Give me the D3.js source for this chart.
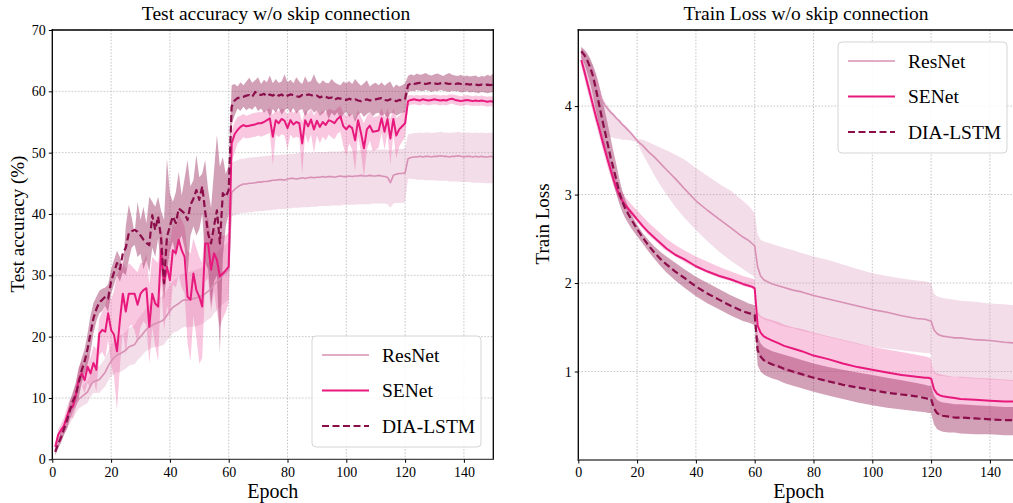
<!DOCTYPE html>
<html>
<head>
<meta charset="utf-8">
<script src="https://cdn.jsdelivr.net/npm/d3@7"></script>
<style>
body { margin: 0; background: #fff; }
svg text { font-family: "Liberation Serif", "Times New Roman", serif; fill: #000; }
</style>
</head>
<body>
<script>
// two panels: test accuracy and train loss, w/o skip connection

const w = 1013;
const h = 503;

const names = ["ResNet", "SENet", "DIA-LSTM"];

// ---- test accuracy, one value per epoch (1..150)
const accEpochs = d3.range(1, 151);

const resAcc = [1.5,2.8,3.8,5.0,6.0,7.0,8.0,9.0,9.8,10.2, 10.6,11.0,12.0,12.7,12.8,13.0,13.6,14.2,15.2,16.0,
  16.6,17.0,17.2,17.5,17.8,18.3,18.5,18.7,19.5,20.0, 20.6,21.2,21.6,21.9,22.1,22.3,22.5,22.8,23.5,24.2,
  24.8,25.1,25.4,25.8,26.0,26.0,26.1,26.2,26.3,26.5, 26.7,27.0,27.4,27.8,28.5,29.0,29.5,30.0,30.4,30.8,
  43.5,44.0,44.4,44.7,44.9,44.9,45.0,45.0,45.1,45.2, 45.2,45.3,45.3,45.4,45.5,45.5,45.6,45.6,45.5,45.7,
  45.8,45.8,45.7,45.8,45.9,45.8,45.9,46.0,45.9,46.0, 46.0,46.1,46.0,46.1,46.1,46.0,46.1,46.2,46.1,46.1,
  46.2,46.1,46.2,46.2,46.3,46.2,46.2,46.3,46.2,46.2, 46.3,46.2,46.1,46.0,45.1,46.3,46.5,46.6,46.6,46.7,
  49.0,49.2,49.3,49.3,49.4,49.3,49.4,49.4,49.3,49.4, 49.4,49.5,49.4,49.4,49.3,49.4,49.4,49.5,49.4,49.3,
  49.4,49.4,49.3,49.4,49.3,49.4,49.3,49.3,49.4,49.3];
const resAccHi = [2.0,3.5,4.6,6.0,7.0,8.2,9.3,10.5,11.3,11.8, 12.3,12.8,13.8,14.6,14.8,15.2,15.8,16.5,17.6,18.5,
  19.3,19.8,20.2,20.5,20.8,21.4,21.6,21.9,22.8,23.4, 24.0,24.7,25.2,25.6,25.9,26.2,26.5,26.9,27.6,28.4,
  29.0,29.4,29.8,30.2,30.4,30.5,30.6,30.8,30.9,31.1, 31.3,31.6,32.0,32.5,33.2,33.7,34.2,34.7,35.1,35.5,
  48.4,48.6,48.8,49.0,49.0,49.1,49.2,49.2,49.3,49.3, 49.4,49.4,49.5,49.5,49.6,49.6,49.6,49.7,49.7,49.8,
  49.8,49.8,49.9,49.9,49.9,50.0,50.0,50.0,50.0,50.1, 50.1,50.1,50.1,50.2,50.2,50.2,50.2,50.2,50.3,50.3,
  50.3,50.3,50.3,50.4,50.4,50.4,50.4,50.4,50.4,50.5, 50.5,50.5,50.5,50.5,50.3,50.5,50.6,50.6,50.6,50.7,
  53.0,53.1,53.2,53.2,53.3,53.2,53.3,53.3,53.2,53.3, 53.3,53.4,53.3,53.3,53.2,53.3,53.3,53.4,53.3,53.2,
  53.3,53.3,53.2,53.3,53.2,53.3,53.2,53.2,53.3,53.2];
const resAccLo = [1.0,2.1,3.0,4.0,5.0,5.8,6.7,7.5,8.3,8.6, 8.9,9.2,10.2,10.8,10.8,10.8,11.4,11.9,12.8,13.5,
  13.9,14.2,14.2,14.5,14.8,15.2,15.4,15.5,16.2,16.6, 17.2,17.7,18.0,18.2,18.3,18.4,18.5,18.7,19.4,20.0,
  20.6,20.8,21.0,21.4,21.6,21.5,21.6,21.6,21.7,21.9, 22.1,22.4,22.8,23.1,23.8,24.3,24.8,25.3,25.7,26.1,
  39.6,39.8,40.0,40.1,40.2,40.2,40.3,40.3,40.4,40.4, 40.5,40.5,40.6,40.6,40.7,40.7,40.8,40.8,40.8,40.9,
  40.9,41.0,41.0,41.0,41.1,41.1,41.1,41.2,41.2,41.2, 41.3,41.3,41.3,41.3,41.4,41.4,41.4,41.4,41.5,41.5,
  41.5,41.5,41.5,41.6,41.6,41.6,41.6,41.6,41.7,41.7, 41.7,41.7,41.7,41.6,41.0,41.7,41.8,41.8,41.8,41.9,
  45.8,45.7,45.7,45.6,45.6,45.6,45.5,45.5,45.5,45.5, 45.4,45.4,45.4,45.4,45.3,45.3,45.3,45.3,45.2,45.2,
  45.2,45.2,45.1,45.1,45.1,45.1,45.0,45.0,45.0,45.0];

const seAcc = [2.0,4.0,4.8,5.5,7.0,8.3,8.6,10.5,13.0,14.0, 12.9,15.1,14.0,15.7,14.6,20.5,21.1,20.8,23.8,21.1,
  20.3,17.6,22.7,27.0,24.1,27.0,27.0,27.0,25.2,27.0, 27.6,27.9,21.6,27.0,25.4,24.9,34.1,28.7,31.4,29.2,
  34.1,33.6,35.8,34.1,33.0,26.5,26.0,30.3,27.6,26.5, 24.9,35.2,35.2,30.9,33.6,32.5,29.8,30.3,30.8,31.4,
  51.5,53.0,53.7,54.2,54.5,54.3,54.4,54.5,54.6,54.8, 54.8,55.0,55.3,55.6,52.6,55.3,54.8,55.5,55.2,54.0,
  55.3,54.6,55.0,54.8,51.5,55.3,54.3,55.4,53.8,55.2, 54.2,55.0,54.5,55.3,55.1,54.8,55.5,55.9,54.3,53.8,
  54.4,54.0,52.0,55.3,53.2,50.7,53.8,54.4,53.4,53.5, 53.6,55.6,53.4,55.5,52.3,55.5,52.8,53.8,54.3,54.8,
  58.4,58.6,58.7,58.6,58.5,58.7,58.6,58.5,58.6,58.7, 58.6,58.5,58.6,58.5,58.7,58.8,58.6,58.5,58.4,58.5,
  58.6,58.5,58.4,58.5,58.4,58.5,58.4,58.3,58.4,58.3];
const seAccHi = [2.6,4.8,5.8,6.8,8.5,9.8,10.5,12.5,15.0,16.0, 15.0,17.5,16.5,18.5,18.0,23.0,24.0,25.0,27.5,26.0,
  27.5,30.0,31.0,32.5,31.0,32.0,31.5,31.0,30.5,32.0, 32.0,33.5,28.5,33.0,32.5,32.0,38.0,34.5,36.5,35.0,
  38.5,38.0,40.0,39.0,38.0,34.0,33.5,36.0,34.5,33.0, 32.0,39.0,39.5,36.0,38.0,37.0,36.0,36.5,36.5,37.0,
  53.5,55.0,55.8,56.0,56.3,56.0,56.2,56.4,56.5,56.6, 56.6,56.8,57.0,57.3,56.2,57.0,56.7,57.2,57.0,56.2,
  57.1,56.5,56.8,56.7,55.0,57.0,56.3,57.2,56.0,57.0, 56.2,56.9,56.5,57.1,57.0,56.8,57.3,57.6,56.5,56.0,
  56.4,56.2,55.5,57.0,55.8,54.8,56.0,56.5,55.8,55.9, 56.0,57.3,55.8,57.2,55.5,57.2,55.6,56.0,56.5,57.0,
  59.3,59.4,59.3,59.4,59.3,59.4,59.4,59.3,59.4,59.5, 59.4,59.3,59.4,59.3,59.5,59.5,59.4,59.3,59.2,59.3,
  59.4,59.3,59.2,59.3,59.2,59.3,59.2,59.1,59.2,59.1];
const seAccLo = [1.4,3.2,3.8,4.3,5.5,6.8,6.7,8.5,11.0,12.0, 10.8,12.5,11.5,13.0,11.0,17.0,17.5,16.5,19.5,15.5,
  13.5,8.0,15.0,21.0,17.0,21.5,22.0,21.0,19.0,21.5, 22.5,22.0,15.6,21.5,18.5,16.0,28.5,21.0,25.0,23.0,
  28.5,28.0,30.0,28.0,27.0,19.0,16.0,23.5,20.0,15.6, 16.5,29.0,29.5,24.0,27.5,24.0,21.5,23.0,24.0,25.5,
  48.5,50.0,51.5,52.0,52.5,52.3,52.4,52.5,52.6,52.8, 52.6,52.8,53.0,53.2,48.0,53.0,52.5,53.0,52.8,50.5,
  53.0,52.3,52.6,52.4,46.6,52.9,51.5,53.0,50.0,52.8, 51.5,52.6,52.0,52.9,52.5,52.2,53.1,53.4,51.0,49.5,
  51.5,50.5,47.0,52.7,50.0,46.0,50.5,52.0,50.2,50.5, 50.8,53.2,50.5,53.1,48.0,53.0,49.0,51.0,51.8,52.5,
  57.6,57.8,57.9,57.8,57.7,57.9,57.8,57.7,57.8,57.9, 57.8,57.7,57.8,57.7,57.9,58.0,57.8,57.7,57.6,57.7,
  57.8,57.7,57.6,57.7,57.6,57.7,57.6,57.5,57.6,57.5];

const diaAcc = [1.2,2.5,3.6,5.0,6.3,8.0,9.5,10.5,12.5,14.5, 16.0,18.0,20.5,23.0,24.5,25.6,26.0,26.5,26.2,29.0,
  30.5,32.0,31.0,33.6,34.5,36.8,37.2,37.4,37.1,36.5, 35.8,35.3,34.9,39.8,37.4,39.6,36.0,28.7,36.3,38.0,
  39.6,38.5,40.9,40.5,40.1,39.0,41.5,42.5,43.9,42.3, 44.5,40.4,36.8,35.2,38.0,40.6,35.2,43.4,42.8,43.9,
  57.5,58.5,58.9,59.0,59.1,59.3,59.4,59.1,59.9,59.5, 59.4,59.6,59.2,59.5,59.3,59.6,59.3,59.5,59.1,59.3,
  59.5,59.4,59.2,59.1,59.4,59.3,59.5,59.4,59.2,59.3, 59.0,59.2,59.1,58.9,59.0,58.6,58.9,58.8,58.7,58.6,
  58.8,58.6,58.7,58.5,58.4,58.6,58.7,58.5,58.6,58.7, 58.8,58.9,58.6,58.5,58.7,58.6,58.4,58.6,58.5,58.8,
  61.0,61.3,61.2,61.3,61.4,61.3,61.2,61.3,61.4,61.3, 61.2,61.3,61.4,61.3,61.2,61.3,61.2,61.3,61.2,61.1,
  61.2,61.1,61.2,61.1,61.0,61.1,61.0,61.1,61.0,61.1];
const diaAccHi = [1.8,3.2,4.5,6.0,7.5,9.5,11.0,12.5,14.8,16.5, 18.0,20.5,23.5,25.5,26.5,27.5,27.8,28.0,28.5,31.0,
  32.5,34.0,33.0,31.1,38.0,41.5,39.5,36.8,42.0,39.0, 41.2,38.5,42.8,42.0,41.2,42.8,40.5,39.0,49.0,43.4,
  42.0,43.5,46.9,43.0,45.8,48.8,44.5,45.5,49.6,46.0, 46.6,48.8,44.0,41.0,47.0,52.9,47.7,49.3,46.5,48.0,
  61.0,61.2,60.8,61.5,61.0,61.6,62.2,61.4,61.8,62.3, 61.2,61.9,61.5,62.6,61.3,62.0,61.4,61.6,62.8,61.5,
  61.9,61.3,62.3,61.6,61.2,62.4,61.5,61.7,62.8,61.6, 61.2,61.8,61.4,61.3,62.0,61.5,61.2,61.0,61.6,61.3,
  61.7,61.2,62.0,61.4,60.9,61.3,61.8,60.8,61.2,61.4, 61.0,61.5,60.9,61.3,61.6,60.6,61.1,60.8,61.0,61.3,
  62.5,62.8,62.6,62.9,62.7,62.8,63.0,62.7,62.6,62.8, 62.9,62.7,62.5,62.8,63.0,62.7,62.6,62.5,62.7,62.4,
  62.6,62.4,62.5,62.6,62.3,62.5,62.4,62.7,62.5,62.9];
const diaAccLo = [0.6,1.8,2.7,4.0,5.0,6.5,8.0,8.6,10.0,12.5, 14.0,15.5,17.5,20.5,22.5,23.8,24.2,25.0,24.0,27.0,
  28.5,30.0,29.0,30.5,30.0,32.5,34.5,35.0,33.0,33.5, 31.0,32.5,30.5,34.5,33.0,36.0,31.0,26.0,30.5,34.0,
  35.5,33.0,35.5,36.5,34.5,30.0,36.5,38.0,36.5,37.5, 40.0,32.0,31.0,25.0,29.0,30.0,17.3,33.0,38.0,40.0,
  54.5,56.0,57.2,56.8,57.5,56.9,57.3,57.0,57.6,56.8, 57.2,56.5,57.0,55.8,57.1,56.6,57.3,56.2,56.9,57.2,
  56.6,57.3,56.4,56.9,57.1,55.9,56.8,57.2,56.5,56.9, 56.0,56.4,56.9,55.5,56.5,56.0,56.6,55.3,56.3,56.6,
  55.8,56.3,55.0,56.2,56.5,55.8,56.3,56.6,55.9,56.4, 56.5,56.0,56.3,55.6,56.4,56.5,56.0,56.3,56.5,56.6,
  59.8,60.1,60.0,60.2,60.1,60.0,60.2,60.1,59.9,60.1, 60.0,60.2,60.1,60.0,59.9,60.1,60.0,60.0,59.8,59.9,
  60.0,59.8,59.9,59.8,59.7,59.9,59.8,59.7,59.8,59.9];

// ---- train loss, sampled epochs
const lossEpochs = [1,2,3,4,5,6,7,8,9,10,11,12,13,14,15,16,18,20,22,24,26,28,30,33,36,40,44,48,52,56,58,59,60,
  61,62,63,64,66,68,70,73,76,80,85,90,95,100,105,110,115,118,119,120,
  121,122,123,124,126,128,130,135,140,145,150];

const resLoss = [4.60,4.55,4.48,4.42,4.35,4.28,4.18,4.07,4.01,3.97,3.93,3.90,3.86,3.83,3.79,3.76,3.69,3.61,3.55,3.48,3.42,3.35,3.28,3.18,3.07,2.93,2.82,2.72,2.62,2.52,2.48,2.45,2.42,
  2.18,2.08,2.04,2.02,1.99,1.97,1.95,1.92,1.90,1.86,1.82,1.78,1.74,1.70,1.67,1.63,1.60,1.59,1.58,1.57,
  1.47,1.43,1.41,1.40,1.39,1.38,1.38,1.36,1.35,1.33,1.32];
const resLossHi = [4.66,4.62,4.58,4.52,4.46,4.38,4.26,4.12,4.05,4.00,3.96,3.92,3.88,3.85,3.81,3.78,3.71,3.63,3.62,3.59,3.56,3.53,3.50,3.45,3.40,3.30,3.21,3.12,3.04,2.93,2.87,2.83,2.79,
  2.55,2.49,2.47,2.46,2.44,2.42,2.40,2.37,2.34,2.30,2.26,2.21,2.16,2.11,2.08,2.05,2.03,2.02,2.01,2.00,
  1.88,1.85,1.84,1.83,1.82,1.81,1.80,1.79,1.77,1.76,1.74];
const resLossLo = [4.50,4.42,4.30,4.20,4.08,3.96,3.84,3.74,3.68,3.66,3.65,3.64,3.63,3.63,3.62,3.62,3.61,3.59,3.45,3.33,3.21,3.10,3.00,2.86,2.74,2.60,2.47,2.35,2.25,2.16,2.11,2.09,2.07,
  1.64,1.61,1.59,1.58,1.56,1.53,1.51,1.49,1.46,1.43,1.39,1.35,1.31,1.28,1.26,1.24,1.22,1.21,1.21,1.20,
  0.98,0.96,0.95,0.95,0.94,0.94,0.93,0.92,0.91,0.90,0.89];

const seLoss = [4.52,4.40,4.27,4.14,4.01,3.88,3.76,3.63,3.51,3.39,3.28,3.17,3.07,2.99,2.93,2.88,2.80,2.72,2.64,2.57,2.51,2.45,2.39,2.32,2.27,2.19,2.13,2.08,2.04,1.99,1.97,1.96,1.94,
  1.52,1.44,1.40,1.38,1.35,1.32,1.29,1.26,1.23,1.18,1.14,1.09,1.05,1.02,0.99,0.96,0.94,0.93,0.93,0.92,
  0.80,0.75,0.73,0.72,0.71,0.70,0.69,0.68,0.67,0.66,0.66];
const seLossHi = [4.58,4.47,4.35,4.22,4.10,3.97,3.85,3.72,3.60,3.48,3.37,3.26,3.16,3.08,3.02,2.97,2.89,2.82,2.75,2.68,2.62,2.56,2.50,2.43,2.37,2.30,2.24,2.18,2.13,2.08,2.06,2.05,2.04,
  1.68,1.63,1.61,1.60,1.58,1.56,1.53,1.50,1.48,1.44,1.40,1.36,1.32,1.28,1.25,1.22,1.19,1.17,1.16,1.15,
  1.00,0.98,0.97,0.96,0.95,0.94,0.94,0.93,0.92,0.91,0.90];
const seLossLo = [4.46,4.33,4.19,4.06,3.93,3.80,3.68,3.55,3.43,3.31,3.20,3.10,3.01,2.93,2.88,2.84,2.77,2.69,2.61,2.54,2.48,2.42,2.36,2.30,2.24,2.17,2.11,2.06,2.02,1.97,1.95,1.94,1.92,
  1.24,1.16,1.12,1.10,1.07,1.04,1.01,0.98,0.95,0.92,0.88,0.85,0.82,0.79,0.77,0.75,0.73,0.72,0.71,0.70,
  0.57,0.52,0.50,0.49,0.48,0.47,0.47,0.46,0.45,0.45,0.44];

const diaLoss = [4.62,4.58,4.52,4.44,4.34,4.19,4.03,3.87,3.72,3.57,3.42,3.29,3.16,3.02,2.92,2.84,2.72,2.61,2.51,2.42,2.34,2.27,2.21,2.13,2.06,1.96,1.88,1.81,1.74,1.68,1.66,1.65,1.64,
  1.24,1.17,1.13,1.11,1.08,1.06,1.03,1.00,0.97,0.93,0.89,0.85,0.82,0.79,0.76,0.74,0.72,0.70,0.69,0.69,
  0.58,0.53,0.51,0.50,0.49,0.48,0.48,0.47,0.46,0.45,0.45];
const diaLossHi = [4.67,4.64,4.60,4.54,4.46,4.36,4.24,4.10,3.95,3.80,3.64,3.48,3.33,3.17,3.04,2.94,2.78,2.66,2.56,2.48,2.41,2.35,2.30,2.23,2.16,2.07,2.00,1.93,1.86,1.80,1.77,1.76,1.75,
  1.40,1.32,1.28,1.26,1.23,1.21,1.19,1.16,1.13,1.09,1.05,1.02,0.99,0.96,0.93,0.90,0.87,0.85,0.84,0.84,
  0.73,0.68,0.66,0.65,0.64,0.63,0.63,0.62,0.61,0.60,0.60];
const diaLossLo = [4.55,4.48,4.38,4.26,4.12,3.95,3.80,3.64,3.50,3.36,3.23,3.11,3.00,2.89,2.80,2.73,2.62,2.53,2.44,2.35,2.27,2.19,2.12,2.03,1.95,1.85,1.77,1.70,1.63,1.57,1.55,1.54,1.52,
  1.07,1.00,0.97,0.95,0.92,0.90,0.87,0.84,0.81,0.77,0.73,0.69,0.65,0.62,0.59,0.57,0.55,0.54,0.53,0.53,
  0.40,0.35,0.33,0.32,0.31,0.31,0.30,0.29,0.29,0.28,0.28];

const accTicksY = [0, 10, 20, 30, 40, 50, 60, 70];
const lossTicksY = [1, 2, 3, 4];
const epochTicks = [0, 20, 40, 60, 80, 100, 120, 140];

// styles
const serif = "'Liberation Serif', 'Times New Roman', serif";
const lineColor = ["#d890b5", "#e8197d", "#8b0d4a"];
const bandColor = ["#d890b5", "#ef5fa2", "#9c2f62"];
const bandAlpha = [0.3, 0.35, 0.45];
const lineWidth = [1.6, 2, 2.2];
const lineDash = [null, null, "7,3.5"];

let svg = d3.select("body")
    .append("svg")
    .attr("width", w)
    .attr("height", h)

function zip(ep, m, lo, hi) {
    return ep.map(function (e, i) { return { e: e, m: m[i], lo: lo[i], hi: hi[i] }; });
}

function panel(cfg) {
    var x = d3.scaleLinear().domain([0, 150]).range([cfg.left, cfg.right]);
    var y = d3.scaleLinear().domain(cfg.yDomain).range([cfg.bottom, cfg.top]);
    var g = svg.append("g");

    // grid
    g.selectAll(".gx").data(epochTicks).join("line")
        .attr("x1", d => x(d)).attr("x2", d => x(d))
        .attr("y1", cfg.top).attr("y2", cfg.bottom)
        .attr("stroke", "#b8b8b8").attr("stroke-width", 0.8).attr("stroke-dasharray", "1.6,1.6");
    g.selectAll(".gy").data(cfg.yTicks).join("line")
        .attr("x1", cfg.left).attr("x2", cfg.right)
        .attr("y1", d => y(d)).attr("y2", d => y(d))
        .attr("stroke", "#b8b8b8").attr("stroke-width", 0.8).attr("stroke-dasharray", "1.6,1.6");

    var area = d3.area().x(d => x(d.e)).y0(d => y(d.lo)).y1(d => y(d.hi));
    var line = d3.line().x(d => x(d.e)).y(d => y(d.m));

    cfg.series.forEach(function (s, i) {
        g.append("path").attr("d", area(s))
            .attr("fill", bandColor[i]).attr("fill-opacity", bandAlpha[i]);
    });
    cfg.series.forEach(function (s, i) {
        g.append("path").attr("d", line(s))
            .attr("fill", "none")
            .attr("stroke", lineColor[i])
            .attr("stroke-width", lineWidth[i])
            .attr("stroke-dasharray", lineDash[i])
            .attr("stroke-linejoin", "round");
    });

    // spines (bottom one is a bit greyer in the original)
    var spines = [
        [cfg.left, cfg.top, cfg.left, cfg.bottom, "#000"],
        [cfg.left, cfg.top, cfg.right, cfg.top, "#000"],
        [cfg.right, cfg.top, cfg.right, cfg.bottom, "#000"],
        [cfg.left, cfg.bottom, cfg.right, cfg.bottom, "#4a4a4a"]
    ];
    g.selectAll(".spine").data(spines).join("line")
        .attr("x1", d => d[0]).attr("y1", d => d[1])
        .attr("x2", d => d[2]).attr("y2", d => d[3])
        .attr("stroke", d => d[4]).attr("stroke-width", 1.3)
        .attr("stroke-linecap", "square");

    var ax = g.append("g").attr("transform", "translate(0," + cfg.bottom + ")")
        .call(d3.axisBottom(x).tickValues(epochTicks).tickFormat(d3.format("d")).tickSize(3.5).tickPadding(4));
    var ay = g.append("g").attr("transform", "translate(" + cfg.left + ",0)")
        .call(d3.axisLeft(y).tickValues(cfg.yTicks).tickFormat(d3.format("d")).tickSize(3.5).tickPadding(3));
    [ax, ay].forEach(function (a) {
        a.select(".domain").remove();
        a.attr("font-family", null).attr("font-size", null);
        a.selectAll("text").style("font-family", serif).style("font-size", "14px");
        a.selectAll("line").attr("stroke-width", 1);
    });

    // titles and labels
    svg.append("text").attr("x", cfg.titleX).attr("y", 20)
        .attr("text-anchor", "middle").style("font-size", "19.5px").text(cfg.title);
    svg.append("text").attr("x", (cfg.left + cfg.right) / 2).attr("y", 498)
        .attr("text-anchor", "middle").style("font-size", "20px").text("Epoch");
    svg.append("text")
        .attr("transform", "translate(" + cfg.ylabX + ",224) rotate(-90)")
        .attr("text-anchor", "middle").style("font-size", "19px").text(cfg.ylabel);

    // legend
    var lg = svg.append("g").attr("transform", "translate(" + cfg.legX + "," + cfg.legY + ")");
    lg.append("rect").attr("width", 169).attr("height", 111).attr("rx", 4)
        .attr("fill", "#fff").attr("fill-opacity", 0.85)
        .attr("stroke", "#d5d5d5").attr("stroke-width", 1);
    names.forEach(function (n, i) {
        var yy = 19 + i * 35.5;
        lg.append("line").attr("x1", 10).attr("x2", 57).attr("y1", yy).attr("y2", yy)
            .attr("stroke", lineColor[i]).attr("stroke-width", lineWidth[i])
            .attr("stroke-dasharray", lineDash[i]);
        lg.append("text").attr("x", 70).attr("y", yy).attr("dy", "0.35em")
            .style("font-size", "19.5px").text(n);
    });
}

panel({
    left: 52.3, right: 493.3, top: 30, bottom: 459.3,
    yDomain: [0, 70], yTicks: accTicksY,
    title: "Test accuracy w/o skip connection", titleX: 276,
    ylabel: "Test accuracy (%)", ylabX: 24,
    legX: 312, legY: 336,
    series: [zip(accEpochs, resAcc, resAccLo, resAccHi),
             zip(accEpochs, seAcc, seAccLo, seAccHi),
             zip(accEpochs, diaAcc, diaAccLo, diaAccHi)]
});

panel({
    left: 578.3, right: 1019.3, top: 30, bottom: 460,
    yDomain: [0.0, 4.86], yTicks: lossTicksY,
    title: "Train Loss w/o skip connection", titleX: 806,
    ylabel: "Train Loss", ylabX: 549,
    legX: 838, legY: 42,
    series: [zip(lossEpochs, resLoss, resLossLo, resLossHi),
             zip(lossEpochs, seLoss, seLossLo, seLossHi),
             zip(lossEpochs, diaLoss, diaLossLo, diaLossHi)]
});

</script>
</body>
</html>
